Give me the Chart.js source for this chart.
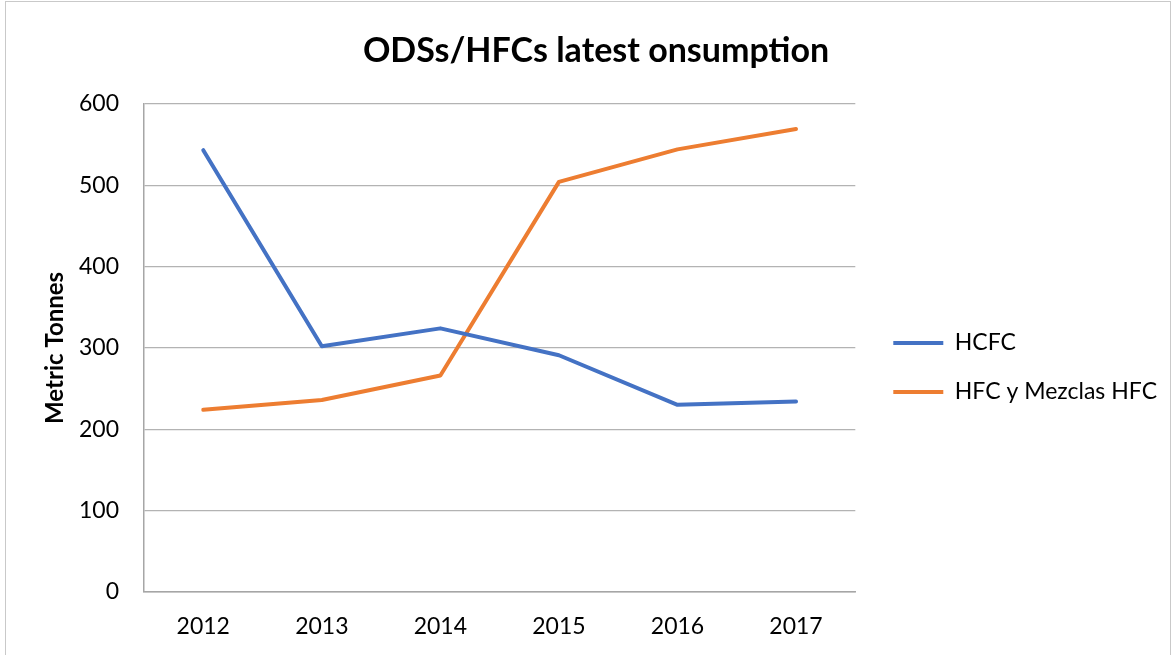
<!DOCTYPE html>
<html>
<head>
<meta charset="utf-8">
<title>ODSs/HFCs latest onsumption</title>
<script src="https://cdn.jsdelivr.net/npm/chart.js@4.4.1/dist/chart.umd.min.js"></script>
<style>
  html, body { margin: 0; padding: 0; background: #fff; }
  #wrap { position: relative; width: 1175px; height: 655px; overflow: hidden; }
  #frame { position: absolute; left: 5px; top: 1px; width: 1164px; height: 700px; border: 1px solid #c9c9c9; }
  #chart { position: absolute; left: 0; top: 0; }
</style>
</head>
<body>
<div id="wrap">
  <div id="frame"></div>
  <canvas id="chart" width="1175" height="655"></canvas>
</div>
<script>
// datos
var years = ['2012', '2013', '2014', '2015', '2016', '2017'];
var hcfc = [543, 302, 324, 291, 230, 234];
var hfc = [224, 236, 266, 504, 544, 569];
var yTicks = [0, 100, 200, 300, 400, 500, 600];

var fontName = 'Lato';
Chart.defaults.color = '#000';
Chart.defaults.font.family = fontName;

var data = {
  labels: years,
  datasets: [
    {
      label: 'HCFC',
      data: hcfc,
      borderColor: '#4472C4',
      backgroundColor: '#4472C4',
      borderWidth: 4,
      pointRadius: 0,
      pointStyle: 'line',
      tension: 0,
      borderCapStyle: 'round',
      borderJoinStyle: 'round'
    },
    {
      label: 'HFC y Mezclas HFC',
      data: hfc,
      borderColor: '#ED7D31',
      backgroundColor: '#ED7D31',
      borderWidth: 4,
      pointRadius: 0,
      pointStyle: 'line',
      tension: 0,
      borderCapStyle: 'round',
      borderJoinStyle: 'round'
    }
  ]
};

var config = {
  type: 'line',
  data: data,
  options: {
    responsive: false,
    animation: false,
    layout: { padding: { left: 25, right: 8, top: 0, bottom: 14 } },
    plugins: {
      title: {
        display: true,
        text: 'ODSs/HFCs latest onsumption',
        font: { family: fontName, size: 34, weight: 'bold' },
        padding: { top: 31, bottom: 32 }
      },
      legend: {
        position: 'right',
        maxWidth: 400,
        // titulo vacio: solo baja las entradas de la leyenda
        title: { display: true, text: ' ', font: { size: 10 }, padding: { top: 0, bottom: 82 } },
        labels: {
          usePointStyle: true,
          pointStyle: 'line',
          pointStyleWidth: 50,
          padding: 26,
          font: { family: fontName, size: 23 }
        }
      },
      tooltip: { enabled: false }
    },
    scales: {
      x: {
        offset: true,
        afterFit: function (scale) { scale.height = 49; },
        grid: { display: false, drawTicks: false },
        border: { display: true, color: '#a6a6a6', width: 1.5 },
        ticks: { padding: 21, font: { family: fontName, size: 23 } }
      },
      y: {
        min: 0,
        max: 600,
        afterBuildTicks: function (scale) {
          scale.ticks = yTicks.map(function (v) { return { value: v }; });
        },
        afterFit: function (scale) { scale.width = 119; },
        grid: { color: '#b3b3b3', lineWidth: 1.3, drawTicks: false },
        border: { display: true, color: '#a6a6a6', width: 1.5 },
        ticks: { padding: 25, font: { family: fontName, size: 23 } },
        title: {
          display: true,
          text: 'Metric Tonnes',
          font: { family: fontName, size: 24, weight: 'bold' },
          padding: { top: 16, bottom: 4 }
        }
      },
      // hueco entre el grafico y la leyenda
      gap: {
        type: 'linear',
        position: 'right',
        grid: { display: false },
        border: { display: false },
        ticks: { display: false },
        afterFit: function (scale) { scale.width = 12; }
      }
    }
  }
};

var canvas = document.getElementById('chart');
var chart = new Chart(canvas, config);
</script>
</body>
</html>
